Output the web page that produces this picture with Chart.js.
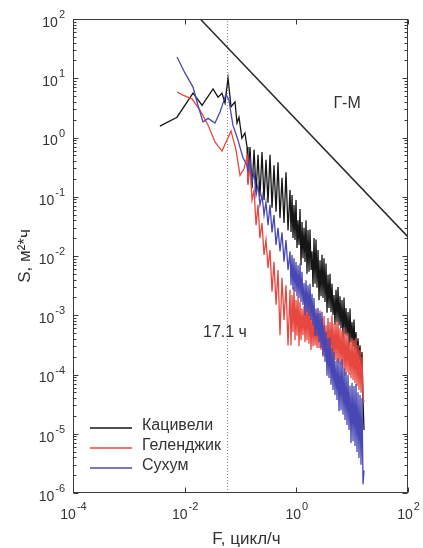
<!DOCTYPE html>
<html>
<head>
<meta charset="utf-8">
<title>Спектры</title>
<script src="https://cdn.jsdelivr.net/npm/chart.js@4.4.0/dist/chart.umd.min.js"></script>
<style>
	body { margin: 0; background: #fff; }
	#wrap { width: 423px; height: 548px; position: relative; }
</style>
</head>
<body>
<div id="wrap"><canvas id="spectrumCanvas"></canvas></div>
<script>
// low frequency part of each spectrum (F in cycles/h, S in m^2*h)
var katsLowF = [0.0036, 0.0073, 0.0141, 0.0205, 0.0322, 0.0396, 0.0466, 0.0528, 0.0598, 0.0676, 0.0798, 0.0866, 0.094, 0.106, 0.120, 0.131];
var katsLowS = [1.56, 2.2, 5.6, 3.5, 6.6, 4.8, 5.6, 3.8, 10.1, 3.3, 4.0, 1.76, 2.2, 0.98, 1.19, 0.69];
var gelLowF = [0.0073, 0.0093, 0.0135, 0.0188, 0.0262, 0.0349, 0.0466, 0.0676, 0.083, 0.098, 0.116, 0.131];
var gelLowS = [5.86, 5.2, 4.5, 2.9, 1.63, 0.84, 0.59, 1.29, 0.62, 0.23, 0.30, 0.47];
var sukhLowF = [0.0073, 0.0101, 0.0141, 0.0173, 0.0213, 0.0262, 0.0349, 0.043, 0.055, 0.062, 0.073, 0.090, 0.111, 0.131];
var sukhLowS = [22.8, 12.3, 7.1, 3.5, 1.83, 2.1, 1.76, 2.7, 5.4, 4.3, 1.63, 0.91, 0.45, 0.34];

// high frequency part, same frequencies for all three stations
var freqHigh = [0.136, 0.148, 0.161, 0.175, 0.190, 0.206, 0.223, 0.243, 0.264, 0.286, 0.311, 0.338, 0.367, 0.398, 0.433, 0.470, 0.510, 0.554, 0.602, 0.653, 0.710, 0.771,
	0.803, 0.837, 0.872, 0.909, 0.947, 0.987, 1.028, 1.072, 1.117, 1.164, 1.213, 1.264, 1.317, 1.373, 1.430, 1.491, 1.553, 1.619, 1.687, 1.758,
	1.832, 1.909, 1.989, 2.073, 2.161, 2.251, 2.346, 2.445, 2.548, 2.655, 2.767, 2.883, 3.005, 3.131, 3.263, 3.400, 3.544, 3.693, 3.848, 4.010,
	4.179, 4.355, 4.539, 4.730, 4.929, 5.137, 5.353, 5.579, 5.813, 6.058, 6.313, 6.580, 6.857, 7.145, 7.446, 7.760, 8.087, 8.427, 8.782, 9.150,
	9.537, 9.938, 10.36, 10.79, 11.25, 11.72, 12.21, 12.73, 13.26, 13.82, 14.40, 15.01, 15.64, 16.30];
var katsHighS = [0.17, 0.69, 0.14, 0.62, 0.12, 0.51, 0.10, 0.57, 0.088, 0.42, 0.079, 0.51, 0.065, 0.34, 0.056, 0.38, 0.044, 0.21, 0.036, 0.26, 0.027, 0.13,
	0.0254, 0.107, 0.0201, 0.0726, 0.0186, 0.0881, 0.0136, 0.040, 0.0153, 0.062, 0.0070, 0.0375, 0.0092, 0.030, 0.0079, 0.040, 0.0050, 0.0275, 0.0054, 0.028,
	0.0058, 0.012, 0.0030, 0.0201, 0.0034, 0.019, 0.0029, 0.0126, 0.0018, 0.0085, 0.0021, 0.0105, 0.00195, 0.0092, 0.00167, 0.0075, 0.0011, 0.0048, 0.00133, 0.0050,
	0.00113, 0.0034, 0.00101, 0.0022, 0.00070, 0.0027, 0.00077, 0.0030, 0.00068, 0.0021, 0.00061, 0.0018, 0.00040, 0.0020, 0.00048, 0.00133, 0.00045, 0.00113, 0.00030, 0.0013,
	0.00035, 0.00077, 0.00030, 0.00085, 0.00026, 0.00052, 0.00021, 0.00041, 0.000176, 0.00031, 0.000129, 0.00024, 0.000037, 0.0000116];
var gelHighS = [0.158, 0.34, 0.088, 0.13, 0.033, 0.073, 0.020, 0.036, 0.0104, 0.0186, 0.0063, 0.0126, 0.0025, 0.0080, 0.0015, 0.0058, 0.00046, 0.0043, 0.00083, 0.0032, 0.00031, 0.0027,
	0.00031, 0.0022, 0.00052, 0.0030, 0.00038, 0.0018, 0.00045, 0.0021, 0.00030, 0.00167, 0.00038, 0.0013, 0.00046, 0.00143, 0.00035, 0.00155, 0.00038, 0.0017, 0.00033, 0.00133,
	0.00026, 0.00113, 0.00030, 0.00095, 0.00031, 0.00101, 0.00028, 0.00109, 0.00028, 0.0012, 0.00026, 0.00090, 0.00020, 0.00097, 0.00024, 0.00068, 0.00022, 0.00090, 0.00021, 0.00077,
	0.00020, 0.00100, 0.00015, 0.00071, 0.000176, 0.00077, 0.000163, 0.00080, 0.000156, 0.00061, 0.000145, 0.00056, 0.000129, 0.00062, 0.000095, 0.00048, 0.000110, 0.00050, 0.000098, 0.00036,
	0.000087, 0.00041, 0.000081, 0.00038, 0.000072, 0.00042, 0.000064, 0.00031, 0.000055, 0.00026, 0.000049, 0.00020, 0.000040, 0.000034];
var sukhHighS = [0.26, 0.42, 0.18, 0.26, 0.107, 0.158, 0.073, 0.107, 0.049, 0.081, 0.033, 0.073, 0.025, 0.049, 0.0153, 0.030, 0.0120, 0.025, 0.0080, 0.0186, 0.0058, 0.0120,
	0.0032, 0.0104, 0.0027, 0.0092, 0.0025, 0.0079, 0.0021, 0.0070, 0.00195, 0.0075, 0.00167, 0.0054, 0.00149, 0.0035, 0.0010, 0.0039, 0.00113, 0.0032, 0.00097, 0.0034,
	0.00083, 0.0023, 0.00068, 0.00195, 0.00045, 0.0013, 0.00045, 0.00133, 0.00035, 0.00109, 0.00028, 0.00115, 0.00021, 0.00068, 0.000163, 0.00052, 0.000095, 0.00041, 0.000087, 0.00042,
	0.000067, 0.00028, 0.000055, 0.00024, 0.000045, 0.00017, 0.000037, 0.00019, 0.000024, 0.000163, 0.000025, 0.00018, 0.000021, 0.000129, 0.000017, 0.000110, 0.0000141, 0.000098, 0.0000116, 0.000065,
	0.0000070, 0.000072, 0.0000075, 0.000064, 0.0000062, 0.000070, 0.0000049, 0.000050, 0.0000039, 0.000045, 0.0000030, 0.000040, 0.0000014, 0.0000024];

// Garrett-Munk line and the 17.1 h line
var gmF = [0.019, 100];
var gmS = [100, 0.021];
var tideF = 0.0585;

// axes
var xTickExp = [-4, -2, 0, 2];
var yTickExp = [-6, -5, -4, -3, -2, -1, 0, 1, 2];
var seriesNames = ['Кацивели', 'Геленджик', 'Сухум'];
var seriesColors = ['#161616', '#e8473f', '#4848b4'];

var font = '"Liberation Sans", Arial, sans-serif';

//make {x,y} points from two arrays
function toPoints(f, s) {
	var pts = [];
	for (var i = 0; i < f.length; i++) {
		pts.push({x: f[i], y: s[i]});
	}
	return pts;
}

//draws 10 with a raised exponent
function drawPow(ctx, exp, x, y, align) {
	ctx.font = '14px ' + font;
	var w1 = ctx.measureText('10').width;
	ctx.font = '11px ' + font;
	var w2 = ctx.measureText(String(exp)).width;
	var start = align == 'right' ? x - w1 - w2 : x - (w1 + w2) / 2;
	ctx.textAlign = 'left';
	ctx.textBaseline = 'middle';
	ctx.font = '14px ' + font;
	ctx.fillText('10', start, y + 4);
	ctx.font = '11px ' + font;
	ctx.fillText(String(exp), start + w1 + 1, y - 4);
}

var decor = {
	id: 'decor',
	beforeDraw: function(chart) {
		var ctx = chart.ctx;
		ctx.save();
		ctx.fillStyle = '#fff';
		ctx.fillRect(0, 0, chart.width, chart.height);
		ctx.restore();
	},
	afterDraw: function(chart) {
		var ctx = chart.ctx;
		var a = chart.chartArea;
		var xs = chart.scales.x;
		var ys = chart.scales.y;
		var l = Math.round(a.left) + 0.5, r = Math.round(a.right) - 0.5;
		var t = Math.round(a.top) + 0.5, b = Math.round(a.bottom) - 0.5;
		ctx.save();
		ctx.strokeStyle = '#3a3a3a';
		ctx.lineWidth = 1;
		ctx.strokeRect(l, t, r - l, b - t);
		ctx.beginPath();
		// y ticks with minor ticks, both sides
		for (var e = -6; e <= 2; e++) {
			for (var m = 1; m <= 9; m++) {
				if (e == 2 && m > 1) break;
				var py = Math.round(ys.getPixelForValue(m * Math.pow(10, e))) + 0.5;
				var len = m == 1 ? 5 : 3;
				ctx.moveTo(l, py); ctx.lineTo(l + len, py);
				ctx.moveTo(r, py); ctx.lineTo(r - len, py);
			}
		}
		// x ticks top and bottom
		for (var i = 0; i < xTickExp.length; i++) {
			var px = Math.round(xs.getPixelForValue(Math.pow(10, xTickExp[i]))) + 0.5;
			ctx.moveTo(px, b); ctx.lineTo(px, b - 5);
			ctx.moveTo(px, t); ctx.lineTo(px, t + 5);
		}
		ctx.stroke();

		// tick labels
		ctx.fillStyle = '#333';
		for (var j = 0; j < yTickExp.length; j++) {
			drawPow(ctx, yTickExp[j], a.left - 9, ys.getPixelForValue(Math.pow(10, yTickExp[j])), 'right');
		}
		for (var k = 0; k < xTickExp.length; k++) {
			drawPow(ctx, xTickExp[k], xs.getPixelForValue(Math.pow(10, xTickExp[k])), a.bottom + 18, 'center');
		}

		// axis titles
		ctx.font = '17px ' + font;
		ctx.textAlign = 'center';
		ctx.textBaseline = 'middle';
		ctx.fillText('F, цикл/ч', (a.left + a.right) / 2 + 6, a.bottom + 46);
		ctx.save();
		ctx.translate(25, (a.top + a.bottom) / 2);
		ctx.rotate(-Math.PI / 2);
		ctx.fillText('S, м²*ч', 0, 0);
		ctx.restore();

		// annotations
		ctx.font = '16px ' + font;
		ctx.fillText('Г-М', xs.getPixelForValue(8.1), ys.getPixelForValue(3.8));
		ctx.textAlign = 'left';
		ctx.fillText('17.1 ч', xs.getPixelForValue(0.0213), ys.getPixelForValue(0.0005));

		// legend
		ctx.font = '16px ' + font;
		for (var n = 0; n < seriesNames.length; n++) {
			var ly = a.bottom - 65 + n * 20;
			ctx.strokeStyle = seriesColors[n];
			ctx.lineWidth = 1.3;
			ctx.beginPath();
			ctx.moveTo(a.left + 17, ly);
			ctx.lineTo(a.left + 59, ly);
			ctx.stroke();
			ctx.fillStyle = '#333';
			ctx.fillText(seriesNames[n], a.left + 69, ly - 2);
		}
		ctx.restore();
	}
};

var chartdata = {
	datasets: [
		{
			label: seriesNames[0],
			data: toPoints(katsLowF.concat(freqHigh), katsLowS.concat(katsHighS)),
			borderColor: seriesColors[0],
			order: 3
		},
		{
			label: seriesNames[1],
			data: toPoints(gelLowF.concat(freqHigh), gelLowS.concat(gelHighS)),
			borderColor: seriesColors[1],
			order: 2
		},
		{
			label: seriesNames[2],
			data: toPoints(sukhLowF.concat(freqHigh), sukhLowS.concat(sukhHighS)),
			borderColor: seriesColors[2],
			order: 1
		},
		{
			label: 'Г-М',
			data: toPoints(gmF, gmS),
			borderColor: '#2a2a2a',
			borderWidth: 1.5,
			order: 0
		},
		{
			label: '17.1 ч',
			data: [{x: tideF, y: 1e-6}, {x: tideF, y: 1e2}],
			borderColor: '#888',
			borderWidth: 1,
			borderDash: [1, 2],
			order: 4
		}
	]
};

var ctx = document.getElementById('spectrumCanvas');
var spectrumChart = new Chart(ctx, {
	type: 'line',
	data: chartdata,
	options: {
		responsive: true,
		maintainAspectRatio: false,
		animation: false,
		layout: { padding: { left: 73, right: 15, top: 19, bottom: 55 } },
		elements: {
			point: { radius: 0 },
			line: { borderWidth: 1.3, tension: 0 }
		},
		scales: {
			x: { type: 'logarithmic', min: 1e-4, max: 1e2, display: false },
			y: { type: 'logarithmic', min: 1e-6, max: 1e2, display: false }
		},
		plugins: {
			legend: { display: false },
			tooltip: { enabled: false }
		}
	},
	plugins: [decor]
});
</script>
</body>
</html>
